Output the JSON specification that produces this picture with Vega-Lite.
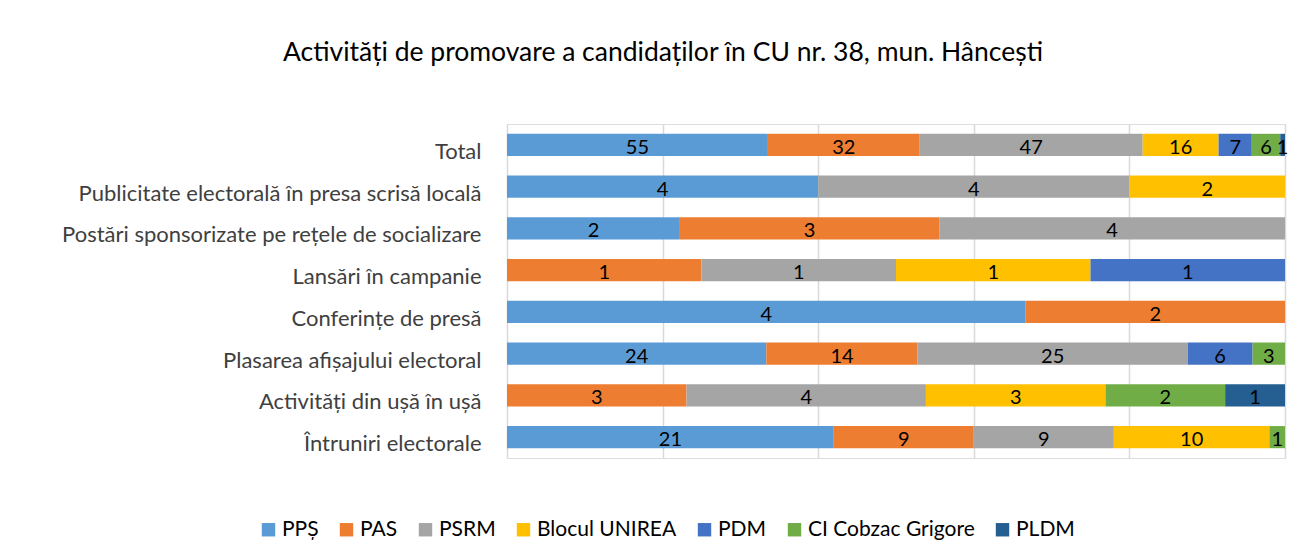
{
  "$schema": "https://vega.github.io/schema/vega-lite/v6.json",
  "autosize": "none",
  "width": 778,
  "height": 334,
  "padding": {"left": 507, "top": 124, "right": 19, "bottom": 100},
  "background": "white",
  "title": {
    "text": "Activități de promovare a candidaților în CU nr. 38, mun. Hâncești",
    "font": "Lato",
    "fontSize": 26.5,
    "fontWeight": "normal",
    "color": "#000000",
    "anchor": "middle",
    "frame": "group",
    "dx": -233,
    "offset": 58
  },
  "data": {
    "values": [
      {"a": "Total", "p": "PPȘ", "v": 55, "o": 1},
      {"a": "Total", "p": "PAS", "v": 32, "o": 2},
      {"a": "Total", "p": "PSRM", "v": 47, "o": 3},
      {"a": "Total", "p": "Blocul UNIREA", "v": 16, "o": 4},
      {"a": "Total", "p": "PDM", "v": 7, "o": 5},
      {"a": "Total", "p": "CI Cobzac Grigore", "v": 6, "o": 6},
      {"a": "Total", "p": "PLDM", "v": 1, "o": 7},
      {"a": "Publicitate electorală în presa scrisă locală", "p": "PPȘ", "v": 4, "o": 1},
      {"a": "Publicitate electorală în presa scrisă locală", "p": "PSRM", "v": 4, "o": 3},
      {"a": "Publicitate electorală în presa scrisă locală", "p": "Blocul UNIREA", "v": 2, "o": 4},
      {"a": "Postări sponsorizate pe rețele de socializare", "p": "PPȘ", "v": 2, "o": 1},
      {"a": "Postări sponsorizate pe rețele de socializare", "p": "PAS", "v": 3, "o": 2},
      {"a": "Postări sponsorizate pe rețele de socializare", "p": "PSRM", "v": 4, "o": 3},
      {"a": "Lansări în campanie", "p": "PAS", "v": 1, "o": 2},
      {"a": "Lansări în campanie", "p": "PSRM", "v": 1, "o": 3},
      {"a": "Lansări în campanie", "p": "Blocul UNIREA", "v": 1, "o": 4},
      {"a": "Lansări în campanie", "p": "PDM", "v": 1, "o": 5},
      {"a": "Conferințe de presă", "p": "PPȘ", "v": 4, "o": 1},
      {"a": "Conferințe de presă", "p": "PAS", "v": 2, "o": 2},
      {"a": "Plasarea afișajului electoral", "p": "PPȘ", "v": 24, "o": 1},
      {"a": "Plasarea afișajului electoral", "p": "PAS", "v": 14, "o": 2},
      {"a": "Plasarea afișajului electoral", "p": "PSRM", "v": 25, "o": 3},
      {"a": "Plasarea afișajului electoral", "p": "PDM", "v": 6, "o": 5},
      {"a": "Plasarea afișajului electoral", "p": "CI Cobzac Grigore", "v": 3, "o": 6},
      {"a": "Activități din ușă în ușă", "p": "PAS", "v": 3, "o": 2},
      {"a": "Activități din ușă în ușă", "p": "PSRM", "v": 4, "o": 3},
      {"a": "Activități din ușă în ușă", "p": "Blocul UNIREA", "v": 3, "o": 4},
      {"a": "Activități din ușă în ușă", "p": "CI Cobzac Grigore", "v": 2, "o": 6},
      {"a": "Activități din ușă în ușă", "p": "PLDM", "v": 1, "o": 7},
      {"a": "Întruniri electorale", "p": "PPȘ", "v": 21, "o": 1},
      {"a": "Întruniri electorale", "p": "PAS", "v": 9, "o": 2},
      {"a": "Întruniri electorale", "p": "PSRM", "v": 9, "o": 3},
      {"a": "Întruniri electorale", "p": "Blocul UNIREA", "v": 10, "o": 4},
      {"a": "Întruniri electorale", "p": "CI Cobzac Grigore", "v": 1, "o": 6}
    ]
  },
  "encoding": {
    "y": {
      "field": "a",
      "type": "nominal",
      "sort": null,
      "scale": {"paddingInner": 0.47, "paddingOuter": 0.235},
      "axis": {
        "title": null,
        "domain": false,
        "ticks": false,
        "labelFont": "Lato",
        "labelFontSize": 22,
        "labelColor": "#404040",
        "labelPadding": 26,
        "labelOffset": 7,
        "labelLimit": 600
      }
    }
  },
  "layer": [
    {
      "mark": {"type": "bar"},
      "encoding": {
        "x": {
          "field": "v",
          "type": "quantitative",
          "stack": "normalize",
          "axis": {
            "title": null,
            "labels": false,
            "ticks": false,
            "domain": false,
            "grid": true,
            "gridColor": "#d9d9d9",
            "gridWidth": 1.5,
            "values": [0, 0.2, 0.4, 0.6, 0.8, 1]
          }
        },
        "color": {
          "field": "p",
          "type": "nominal",
          "scale": {
            "domain": ["PPȘ", "PAS", "PSRM", "Blocul UNIREA", "PDM", "CI Cobzac Grigore", "PLDM"],
            "range": ["#5B9BD5", "#ED7D31", "#A5A5A5", "#FFC000", "#4472C4", "#70AD47", "#255E91"]
          },
          "legend": {
            "title": null,
            "orient": "none",
            "direction": "horizontal",
            "legendX": -249,
            "legendY": 395,
            "symbolType": "square",
            "symbolSize": 180,
            "symbolStrokeWidth": 0,
            "labelFont": "Lato",
            "labelFontSize": 21,
            "labelColor": "#000000",
            "labelOffset": 3,
            "labelLimit": 400,
            "columnPadding": 17
          }
        },
        "order": {"field": "o", "type": "quantitative"}
      }
    },
    {
      "mark": {"type": "text", "font": "Lato", "fontSize": 20, "color": "#000000", "baseline": "middle", "dy": 3},
      "encoding": {
        "x": {"field": "v", "type": "quantitative", "stack": "normalize", "bandPosition": 0.5},
        "detail": {"field": "p"},
        "order": {"field": "o", "type": "quantitative"},
        "text": {"field": "v", "type": "quantitative"}
      }
    }
  ]
}
